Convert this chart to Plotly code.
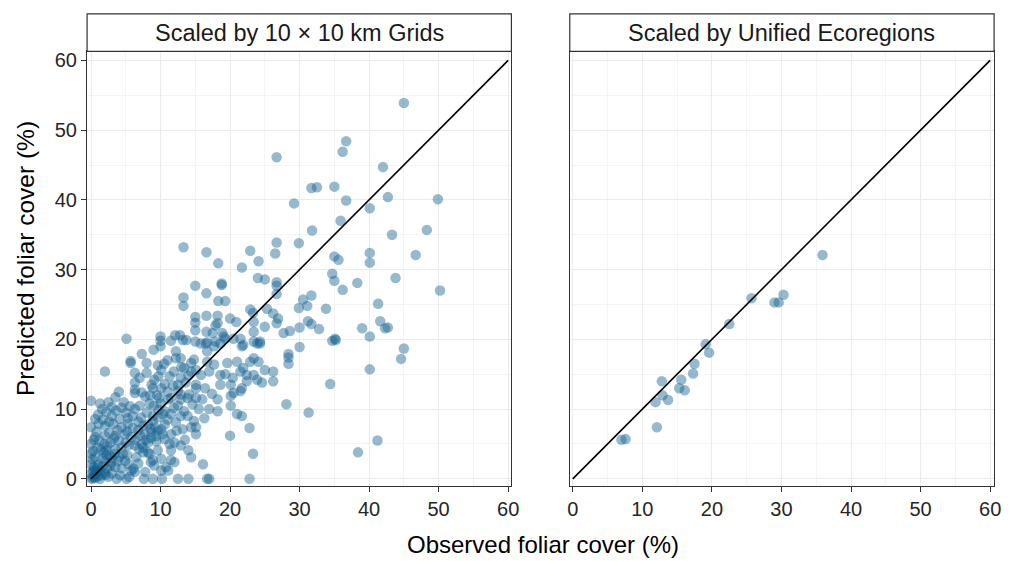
import plotly.graph_objects as go

# ---------------- data ----------------
grid_pts = [
    (45.0,53.9),(36.7,48.4),(36.2,46.9),(26.7,46.1),(42.0,44.7),(31.7,41.7),(32.5,41.8),(35.0,41.9),
    (29.2,39.5),(36.7,39.9),(42.7,40.4),(49.9,40.1),(40.1,38.8),(35.9,37.0),(31.8,35.6),(43.3,35.0),(48.3,35.7),
    (13.3,33.2),(16.6,32.5),(22.9,32.7),(26.7,33.9),(26.5,32.3),(29.9,33.8),(18.3,30.9),(24.1,31.2),(21.7,30.3),
    (35.0,31.9),(35.6,31.4),(40.1,32.4),(40.1,31.0),(46.7,32.1),(34.7,29.4),(35.0,28.4),(36.2,27.1),(38.3,28.1),
    (43.8,28.8),(50.2,27.0),(24.0,28.8),(25.0,28.6),(26.7,28.2),(26.7,27.7),(26.7,26.5),(18.8,28.0),(18.8,27.8),
    (15.0,27.7),(16.6,26.6),(13.3,26.0),(13.3,24.8),(18.3,25.5),(19.3,25.5),(30.5,25.7),(31.7,26.3),(29.9,24.5),
    (31.1,24.8),(33.8,24.4),(41.3,25.1),(22.9,24.3),(23.3,23.8),(25.3,24.4),(26.2,23.7),(26.9,23.0),(26.7,22.3),
    (15.0,23.2),(15.0,22.4),(15.0,21.3),(16.6,23.4),(18.2,23.4),(18.2,22.3),(17.9,22.0),(16.6,21.1),(17.5,20.9),
    (20.0,23.0),(20.9,22.5),(23.4,22.5),(23.4,21.1),(25.0,21.8),(31.2,22.6),(31.7,22.2),(30.0,21.7),(28.6,21.2),
    (27.7,20.9),(32.8,21.5),(39.0,21.6),(41.6,22.6),(42.3,21.6),(42.7,21.7),(10.0,20.4),(12.1,20.6),(12.8,20.6),
    (40.1,20.4),(35.1,20.1),
    (10.0,19.8),(13.7,19.9),(15.0,19.7),(16.7,19.6),(17.9,19.7),(18.9,20.9),(19.3,20.1),
    (20.5,20.1),(21.5,20.1),(21.9,19.2),(21.7,19.0),(23.9,19.4),(24.3,19.7),(23.4,19.7),
    (34.7,19.8),(35.2,19.9),(45.0,18.7),(44.6,17.2),(40.1,15.7),(34.4,13.6),(30.0,18.9),(28.4,17.9),(28.4,17.4),(28.4,16.5),
    (28.1,10.7),(31.3,9.5),(41.2,5.5),(38.4,3.8),(22.8,7.3),(23.3,3.6),(22.8,0.0),(20.0,6.2),(16.1,2.1),(16.7,0.0),(17.0,0.0),
    (14.0,0.0),(12.5,0.0),(10.2,0.0),(8.9,0.0),(7.6,0.0),(5.1,0.0),(12.9,4.8),(14.0,4.1),(10.1,1.2),(11.1,1.2),(10.8,1.7),
    (6.1,1.5),(6.3,1.0),(8.9,2.7),(8.6,2.4),(10.1,2.9),(11.5,2.7),(12.0,2.4),(7.5,3.8),(8.4,3.6),(9.6,4.1),
    (5.1,20.1),(7.3,17.9),(2.0,15.4),(5.7,16.9),(5.7,16.6),(6.3,15.2),(6.3,13.8),(6.3,12.8),(6.3,12.3),(0.0,11.2),
    (3.5,11.7),(3.0,10.3),(1.6,10.0),(4.4,10.2),
    (8.0,15.2),(8.7,13.5),(9.1,14.2),(10.1,15.6),(10.1,13.0),(9.7,14.7),
    (11.3,14.7),(12.2,18.3),(12.2,17.3),(12.9,17.3),(13.4,15.9),(14.4,16.6),(13.2,19.9),(14.8,17.1),(15.1,15.6),(14.4,15.4),(15.8,14.9),
    (15.1,13.5),(15.1,13.0),(14.1,12.1),(13.9,11.6),(15.1,11.6),(16.0,11.4),(14.6,10.7),(15.5,10.0),
    (16.7,18.3),(16.7,16.8),(17.7,16.4),(17.0,15.4),(15.8,19.4),(16.5,19.4),(17.7,19.0),(18.6,19.4),(19.1,20.4),
    (18.6,14.9),(19.6,16.6),(20.1,13.5),(20.5,12.3),(21.5,12.6),(18.6,13.5),
    (18.2,11.4),(17.0,10.0),(18.2,9.7),(20.1,10.5),(21.0,9.3),(21.7,9.0),(20.1,11.9),
    (21.0,16.8),(21.5,15.4),(21.9,15.9),(22.4,14.9),(22.4,14.0),(21.7,13.0),(22.9,16.8),(23.4,14.9),(23.9,14.2),
    (24.6,13.8),(25.0,15.6),(26.2,15.4),(26.2,14.0),(23.4,17.3),(24.1,16.8),(24.3,19.4),
    (12.9,14.5),(12.5,13.5),(12.5,12.6),(12.9,12.1),(11.5,11.6),(11.1,11.4),(12.9,11.4),(12.5,10.5),(13.4,9.7),
    (12.9,9.0),(11.9,10.2),(11.5,9.3),
    (14.8,8.3),(15.1,7.4),(15.1,6.4),(14.4,7.4),(13.9,9.0),
    (10.6,9.7),(10.3,9.3),(9.6,8.8),(8.9,8.3),(8.2,7.8),(10.6,7.8),(10.1,7.1),(9.6,6.9),(8.7,6.7),(7.7,6.4),(11.5,6.4),
    (10.6,5.7),(9.4,5.4),(8.2,5.2),(7.3,5.0),(6.3,4.8),(5.4,4.8),(4.4,4.5),(11.3,5.0),(12.0,5.2),(11.5,4.1),
    (0.0,7.4),(1.1,7.9),(2.0,7.6),(3.2,7.9),(4.4,7.4),(5.3,7.9),(0.6,6.0),(2.0,6.2),(3.5,6.2),(4.9,6.4),(0.0,5.0),
    (0.9,4.5),(2.3,4.7),(3.5,4.3),(4.6,3.6),(0.0,3.6),(0.6,3.1),(1.6,2.9),(2.7,3.3),(3.9,2.6),(0.0,2.1),(0.4,1.7),
    (1.3,1.2),(2.3,1.5),(3.5,1.7),(0.0,0.8),(0.4,0.3),(1.3,0.0),(2.5,0.3),(3.7,0.0),(3.0,0.8),(4.9,2.6),(4.4,1.5),
    (5.4,2.1),(5.8,1.2),(6.5,3.1),(7.5,4.5),(8.2,3.8),
    (0.2,0.2),(0.5,0.6),(0.8,1.0),(1.0,2.0),(1.5,0.5),(2.0,2.5),(0.3,4.0),(1.2,5.5),(2.8,5.2),(4.0,5.5),(5.8,6.0),
    (6.8,7.0),(7.2,8.8),(8.0,9.5),(9.0,10.5),(10.0,10.8),(11.0,12.5),(9.5,12.0),(7.0,10.5),(6.0,9.0),(5.0,9.5),
    (3.0,9.0),(1.0,9.2),(2.5,11.0),(4.0,12.5),(7.8,11.8),(8.5,12.0),(10.5,16.5),(11.0,17.0),(7.0,14.5),(9.0,18.5),
    (10.0,19.0),(11.5,19.8),(0.5,1.3),(1.8,3.8),(3.0,3.0),(4.2,0.5),(5.5,0.3),(6.8,2.2),(7.8,1.0),
    (0.1,0.0),(0.6,0.1),(1.0,0.4),(1.9,0.9),(2.8,1.9),(0.2,2.8),(1.4,4.2),(2.2,3.4),(3.3,5.8),(0.8,6.8),(1.7,8.5),
    (2.6,8.2),(4.1,8.6),(5.2,6.8),(6.4,5.6),(7.1,6.2),(8.6,5.9),(9.2,7.4),(6.8,8.2),(5.6,10.4),(8.4,10.8),(9.8,11.6),
    (11.8,13.4),(13.6,13.8),(14.0,14.8),(16.4,13.0),(17.4,12.2),(19.3,15.0),(20.4,14.5),(16.3,8.7),(13.2,7.1),(12.2,8.1),
    (0.3,1.1),(0.9,1.6),(1.6,1.8),(2.1,0.6),(2.9,2.3),(3.4,3.6),(4.1,3.1),(0.4,5.6),(1.9,5.0),(2.6,6.6),(3.8,7.0),
    (5.0,5.2),(6.0,7.3),(6.9,4.3),(7.9,5.6),(8.6,7.2),(9.3,6.1),(10.3,6.4),(11.0,8.5),(9.7,9.9),(8.9,9.0),(7.5,7.6),
    (6.3,10.0),(5.3,8.7),(4.7,11.0),(3.6,9.8),(2.2,9.6),(0.6,8.6),(1.3,10.8),(7.3,12.4),(8.9,13.0),(10.6,13.6),
    (11.9,15.4),(13.0,16.0),(9.6,16.3),(8.0,16.6),(12.3,6.9),(13.5,5.6),(14.4,3.1),(9.1,1.9),(5.2,3.4),(2.2,4.1),
]
obs_grid = [p[0] for p in grid_pts]
pred_grid = [p[1] for p in grid_pts]

obs_eco = [35.9, 25.7, 30.3, 29.0, 29.6, 22.5, 19.1, 19.6, 17.5, 17.3,
           15.6, 12.8, 15.3, 16.1, 12.9, 13.7, 11.9, 12.1, 7.0, 7.6]
pred_eco = [32.1, 25.9, 26.4, 25.3, 25.3, 22.2, 19.3, 18.1, 16.5, 15.1,
            14.2, 14.0, 13.0, 12.7, 12.0, 11.3, 11.0, 7.4, 5.6, 5.7]

one_to_one = [0, 60]
tick_vals = [0, 10, 20, 30, 40, 50, 60]
panel_titles = ["Scaled by 10 \u00d7 10 km Grids", "Scaled by Unified Ecoregions"]
x_title = "Observed foliar cover (%)"
y_title = "Predicted foliar cover (%)"

# ---------------- styling ----------------
W, H = 1011, 561
FONT = "Liberation Sans, Arial, sans-serif"
PT_COLOR = "rgba(15,95,143,0.44)"
BORDER = "#333333"

px1 = (85, 514)
px2 = (573, 1002)
py_top, py_bot = 50, 489
strip_top = 12

def dx(p):
    return p / W

def dy(p):
    return 1 - p / H

fig = go.Figure()
fig.add_trace(go.Scatter(x=obs_grid, y=pred_grid, mode="markers", xaxis="x", yaxis="y",
                         marker=dict(size=10.5, color=PT_COLOR, line=dict(width=0)), showlegend=False))
fig.add_trace(go.Scatter(x=one_to_one, y=one_to_one, mode="lines", xaxis="x", yaxis="y",
                         line=dict(color="black", width=1.6), showlegend=False))
fig.add_trace(go.Scatter(x=obs_eco, y=pred_eco, mode="markers", xaxis="x2", yaxis="y2",
                         marker=dict(size=10.5, color=PT_COLOR, line=dict(width=0)), showlegend=False))
fig.add_trace(go.Scatter(x=one_to_one, y=one_to_one, mode="lines", xaxis="x2", yaxis="y2",
                         line=dict(color="black", width=1.6), showlegend=False))

axis_common = dict(
    tickvals=tick_vals, ticks="outside", ticklen=5, tickwidth=1.2, tickcolor=BORDER,
    showline=True, linecolor=BORDER, linewidth=1.2, mirror=True,
    showgrid=True, gridcolor="#EBEBEB", gridwidth=1,
    minor=dict(dtick=5, showgrid=True, gridcolor="#F4F4F4", gridwidth=0.7, ticks=""),
    zeroline=False, tickfont=dict(family=FONT, size=20, color="#262626"),
)

fig.update_layout(
    width=W, height=H, margin=dict(l=0, r=0, t=0, b=0),
    paper_bgcolor="white", plot_bgcolor="white",
    xaxis=dict(domain=[dx(px1[0]), dx(px1[1])], range=[-0.57, 60.47], anchor="y", **axis_common),
    xaxis2=dict(domain=[dx(px2[0]), dx(px2[1])], range=[-0.43, 60.57], anchor="y2", **axis_common),
    yaxis=dict(domain=[dy(py_bot), dy(py_top)], range=[-0.99, 61.28], anchor="x", **axis_common),
    yaxis2=dict(domain=[dy(py_bot), dy(py_top)], range=[-0.99, 61.28], anchor="x2",
                **{**axis_common, "ticks": "", "showticklabels": False}),
)

shapes = []
annotations = []
for (a, b), title in zip([px1, px2], panel_titles):
    shapes.append(dict(type="rect", xref="paper", yref="paper",
                       x0=dx(a), x1=dx(b), y0=dy(py_top), y1=dy(strip_top),
                       fillcolor="white", line=dict(color=BORDER, width=1.2), layer="above"))
    annotations.append(dict(text=title, xref="paper", yref="paper",
                            x=dx((a + b) / 2), y=dy((py_top + strip_top) / 2),
                            xanchor="center", yanchor="middle", showarrow=False,
                            font=dict(family=FONT, size=23.5, color="#1a1a1a")))

annotations.append(dict(text=x_title, xref="paper", yref="paper", x=dx(546), y=dy(548),
                        xanchor="center", yanchor="middle", showarrow=False,
                        font=dict(family=FONT, size=24, color="black")))
annotations.append(dict(text=y_title, xref="paper", yref="paper", x=dx(22), y=dy(259),
                        xanchor="center", yanchor="middle", showarrow=False, textangle=-90,
                        font=dict(family=FONT, size=24.5, color="black")))

fig.update_layout(shapes=shapes, annotations=annotations)
fig.write_html("out.html")
